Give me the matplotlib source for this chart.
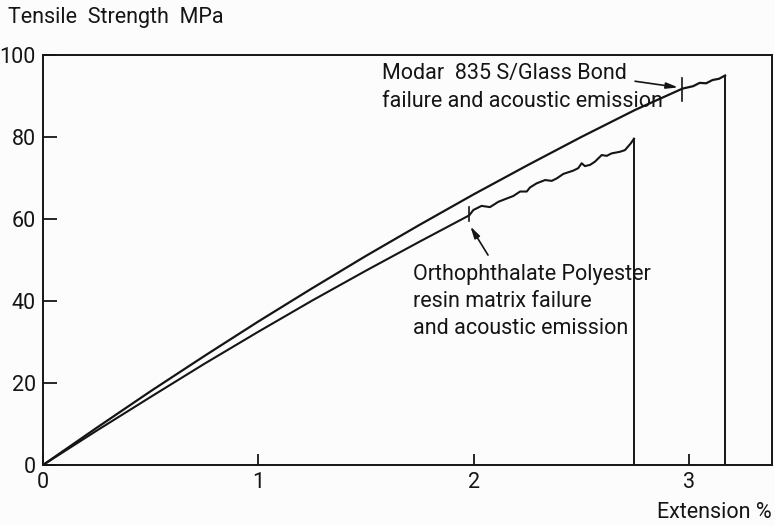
import numpy as np
import matplotlib.pyplot as plt

plt.rcParams['font.family'] = ['Roboto', 'DejaVu Sans']

# Modar 835 S / glass laminate
modar_x = [0, 0.25, 0.5, 0.75, 1.0, 1.25, 1.5, 1.75, 2.0, 2.25, 2.5, 2.75,
           2.97, 3.02, 3.05, 3.08, 3.11, 3.14, 3.168]
modar_y = [0, 9.1, 18.0, 26.6, 35.0, 43.1, 51.0, 58.6, 66.0, 73.1, 80.0, 86.6,
           91.8, 92.4, 93.2, 93.1, 93.9, 94.2, 95.0]

# orthophthalate polyester / glass laminate
poly_x = [0, 0.25, 0.5, 0.75, 1.0, 1.25, 1.5, 1.75, 1.98, 1.999, 2.037, 2.076,
          2.115, 2.154, 2.184, 2.216, 2.247, 2.262, 2.293, 2.332, 2.363, 2.386,
          2.417, 2.463, 2.486, 2.502, 2.517, 2.541, 2.564, 2.595, 2.618, 2.641,
          2.68, 2.703, 2.731, 2.745]
poly_y = [0, 8.4, 16.6, 24.7, 32.5, 40.1, 47.4, 54.5, 60.9, 62.2, 63.2, 62.9,
          64.2, 65.0, 65.6, 66.7, 66.7, 67.7, 68.7, 69.5, 69.3, 69.9,
          71.0, 71.8, 72.4, 73.6, 72.9, 73.2, 74.0, 75.6, 75.4, 76.0,
          76.4, 76.8, 78.5, 79.6]

modar_fail = 3.168
poly_fail = 2.745
modar_ae = (2.97, 91.8)
poly_ae = (1.98, 60.9)

x_ticks = [0, 1, 2, 3]
y_ticks = [0, 20, 40, 60, 80, 100]

ink = '#151515'
fs = 15.5

fig = plt.figure(figsize=(7.75, 5.25), dpi=100, facecolor='#fcfcfc')
ax = fig.add_axes([43 / 775, 60 / 525, 729 / 775, 410 / 525])
ax.set_facecolor('#fcfcfc')

ax.plot(modar_x, modar_y, color=ink, lw=1.6)
ax.plot([modar_fail, modar_fail], [modar_y[-1], 0], color=ink, lw=1.4)
ax.plot(poly_x, poly_y, color=ink, lw=1.5)
ax.plot([poly_fail, poly_fail], [poly_y[-1], 0], color=ink, lw=1.4)

# acoustic emission marks
ax.plot([modar_ae[0]] * 2, [modar_ae[1] - 3, modar_ae[1] + 2.5], color=ink, lw=1.2)
ax.plot([poly_ae[0]] * 2, [poly_ae[1] - 1.5, poly_ae[1] + 2], color=ink, lw=1.2)

arrow = dict(arrowstyle='-|>,head_length=0.7,head_width=0.18', color=ink, lw=1.2,
             shrinkA=0, shrinkB=0)
ax.annotate('', xy=(2.95, 92.1), xytext=(2.75, 93.6), arrowprops=arrow)
ax.annotate('', xy=(1.985, 58.2), xytext=(2.067, 51.2), arrowprops=arrow)

ax.text(1.575, 92.0, 'Modar  835 S/Glass Bond\nfailure and acoustic emission',
        ha='left', va='center', fontsize=fs, linespacing=1.45, color=ink)
ax.text(1.718, 39.9, 'Orthophthalate Polyester\nresin matrix failure\nand acoustic emission',
        ha='left', va='center', fontsize=fs, linespacing=1.4, color=ink)

ax.set_xlim(0, 3.386)
ax.set_ylim(0, 100)
ax.set_xticks(x_ticks)
ax.set_xticklabels([str(v) for v in x_ticks])
ax.set_yticks(y_ticks)
ax.set_yticklabels([str(v) for v in y_ticks])
ax.tick_params(direction='in', length=8, width=1.3, color=ink,
               labelsize=fs, labelcolor=ink)
ax.tick_params(axis='y', pad=5, length=10)
ax.tick_params(axis='x', pad=5)
for s in ax.spines.values():
    s.set_color(ink)
    s.set_linewidth(1.4)

fig.text(8 / 775, 1 - 18 / 525, 'Tensile  Strength  MPa', ha='left', va='center',
         fontsize=fs, color=ink)
fig.text(657 / 775, 12 / 525, 'Extension %', ha='left', va='center',
         fontsize=fs, color=ink)

fig.savefig('out.png', dpi=100, facecolor=fig.get_facecolor())
